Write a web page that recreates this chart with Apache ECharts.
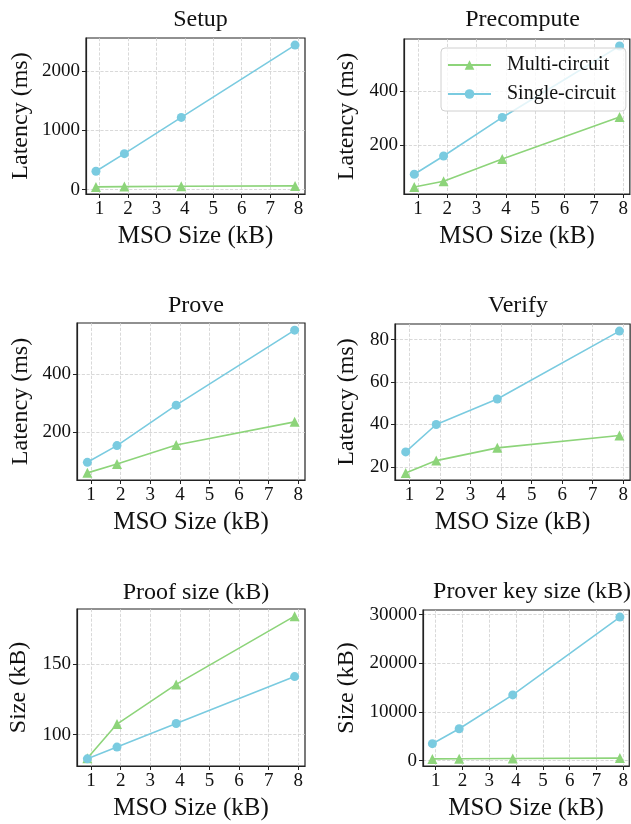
<!DOCTYPE html>
<html>
<head>
<meta charset="utf-8">
<script src="https://cdn.jsdelivr.net/npm/echarts@6/dist/echarts.min.js"></script>
<style>
    html, body { margin: 0; padding: 0; background: #fff; }
    #chart { width: 631px; height: 824px; }
</style>
</head>
<body>
<div id="chart"></div>
<script>
    // MSO sizes (kB) on the x axis
    var mso = [0.875, 1.875, 3.875, 7.875];
    var xTicks = [1, 2, 3, 4, 5, 6, 7, 8];

    var seriesNames = ['Multi-circuit', 'Single-circuit'];
    var titles = ['Setup', 'Precompute', 'Prove', 'Verify', 'Proof size (kB)', 'Prover key size (kB)'];
    var yNames = ['Latency (ms)', 'Latency (ms)', 'Latency (ms)', 'Latency (ms)', 'Size (kB)', 'Size (kB)'];

    var setupMulti = [45, 50, 55, 62];
    var setupSingle = [308, 605, 1215, 2432];
    var precomputeMulti = [44, 65, 148, 304];
    var precomputeSingle = [91, 159, 302, 567];
    var proveMulti = [62, 92, 157, 236];
    var proveSingle = [98, 155, 293, 549];
    var verifyMulti = [17.2, 23, 29, 34.8];
    var verifySingle = [27.1, 40, 52, 84];
    var proofMulti = [83.2, 107.5, 135.8, 184.5];
    var proofSingle = [82.7, 91.1, 107.9, 141.4];
    var keyMulti = [350, 380, 420, 520];
    var keySingle = [3480, 6540, 13500, 29500];

    var setupTicks = [0, 1000, 2000];
    var precomputeTicks = [200, 400];
    var proveTicks = [200, 400];
    var verifyTicks = [20, 40, 60, 80];
    var proofTicks = [100, 150];
    var keyTicks = [0, 10000, 20000, 30000];

    var multiData = [setupMulti, precomputeMulti, proveMulti, verifyMulti, proofMulti, keyMulti];
    var singleData = [setupSingle, precomputeSingle, proveSingle, verifySingle, proofSingle, keySingle];
    var yTicks = [setupTicks, precomputeTicks, proveTicks, verifyTicks, proofTicks, keyTicks];

    // plot boxes in pixels
    var boxes = [
        {left: 86, top: 38, width: 219, height: 156},
        {left: 404, top: 39, width: 227, height: 155},
        {left: 77, top: 323, width: 228, height: 157},
        {left: 395, top: 324, width: 236, height: 156},
        {left: 77, top: 609, width: 228, height: 157},
        {left: 423, top: 610, width: 208, height: 156}
    ];
    var titleTops = [3, 3, 289, 289, 576, 575];
    var yNameGaps = [53, 45, 44, 36, 46, 64];

    var GREEN = '#8DD47A';
    var BLUE = '#7ACBE0';
    var FONT = '"Liberation Serif", "Times New Roman", serif';

    function zip(xs, ys) {
        return xs.map(function (x, i) { return [x, ys[i]]; });
    }
    function plain(v) { return String(v); }

    var grid = [], xAxis = [], yAxis = [], series = [], title = [];

    for (var i = 0; i < 6; i++) {
        var b = boxes[i];
        grid.push({
            left: b.left, top: b.top, width: b.width, height: b.height,
            show: true, borderColor: '#222', borderWidth: 1.2, backgroundColor: 'transparent'
        });
        title.push({
            text: titles[i],
            left: b.left + b.width / 2,
            top: titleTops[i],
            textAlign: 'center',
            textStyle: {fontFamily: FONT, fontSize: 24, fontWeight: 'normal', color: '#111'}
        });

        // matplotlib-like 5% margins
        var all = multiData[i].concat(singleData[i]);
        var lo = Math.min.apply(null, all), hi = Math.max.apply(null, all);
        var pad = (hi - lo) * 0.05;

        xAxis.push({
            type: 'value', gridIndex: i,
            min: 0.525, max: 8.225,
            name: 'MSO Size (kB)', nameLocation: 'middle', nameGap: 30,
            nameTextStyle: {fontFamily: FONT, fontSize: 25, color: '#111'},
            axisLine: {show: true, onZero: false, lineStyle: {color: '#222', width: 1.2}},
            axisTick: {show: true, length: 4, customValues: xTicks, lineStyle: {color: '#222'}},
            axisLabel: {customValues: xTicks, formatter: plain, margin: 6, fontFamily: FONT, fontSize: 19, color: '#111'},
            splitLine: {show: true, lineStyle: {type: 'dashed', color: '#cfcfcf', width: 0.8}}
        });
        yAxis.push({
            type: 'value', gridIndex: i,
            min: lo - pad, max: hi + pad,
            name: yNames[i], nameLocation: 'middle', nameGap: yNameGaps[i],
            nameTextStyle: {fontFamily: FONT, fontSize: 24, color: '#111'},
            axisLine: {show: true, onZero: false, lineStyle: {color: '#222', width: 1.2}},
            axisTick: {show: true, length: 4, customValues: yTicks[i], lineStyle: {color: '#222'}},
            axisLabel: {customValues: yTicks[i], formatter: plain, margin: 6, fontFamily: FONT, fontSize: 19, color: '#111'},
            splitLine: {show: true, lineStyle: {type: 'dashed', color: '#cfcfcf', width: 0.8}}
        });

        series.push({
            name: seriesNames[0], type: 'line', xAxisIndex: i, yAxisIndex: i,
            data: zip(mso, multiData[i]),
            symbol: 'triangle', symbolSize: 10,
            itemStyle: {color: GREEN}, lineStyle: {color: GREEN, width: 1.6},
            animation: false
        });
        series.push({
            name: seriesNames[1], type: 'line', xAxisIndex: i, yAxisIndex: i,
            data: zip(mso, singleData[i]),
            symbol: 'circle', symbolSize: 9,
            itemStyle: {color: BLUE}, lineStyle: {color: BLUE, width: 1.6},
            animation: false
        });
    }

    var chart = echarts.init(document.getElementById('chart'), null, {renderer: 'canvas'});
    chart.setOption({
        backgroundColor: '#fff',
        animation: false,
        title: title,
        grid: grid,
        xAxis: xAxis,
        yAxis: yAxis,
        legend: {
            data: seriesNames,
            orient: 'vertical',
            left: 441, top: 48,
            padding: [7, 10, 7, 6],
            itemWidth: 43, itemHeight: 12, itemGap: 9,
            backgroundColor: 'rgba(255,255,255,0.8)',
            borderColor: '#d0d0d0', borderWidth: 1, borderRadius: 4,
            textStyle: {fontFamily: FONT, fontSize: 20, color: '#111', padding: [0, 0, 0, 11]}
        },
        series: series
    });
</script>
</body>
</html>
